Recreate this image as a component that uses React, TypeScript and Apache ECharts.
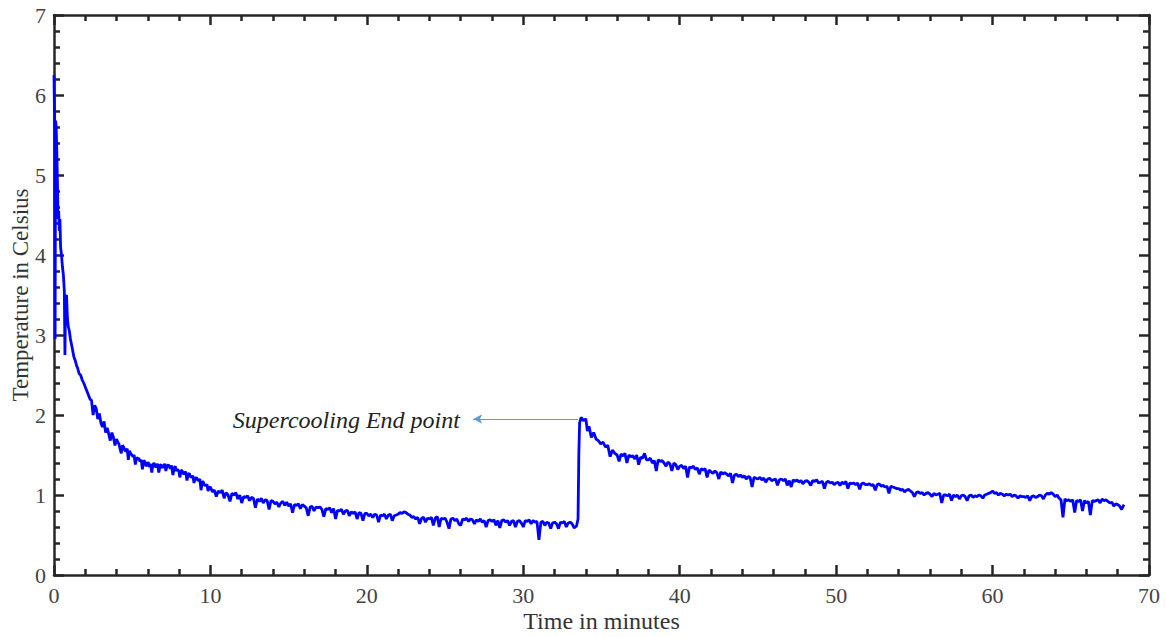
import React, { useEffect, useRef } from "react";
import * as echarts from "echarts";

// Temperature log [minutes, °C]
const coolingPhase: [number, number][] = [
  [0, 6.25], [0.04, 5.62], [0.07, 2.95], [0.1, 5.68], [0.14, 5.6], [0.18, 5.3], [0.22, 4.9],
  [0.26, 4.45], [0.3, 4.55], [0.34, 4.3], [0.38, 4.45], [0.42, 4.1], [0.48, 4.0], [0.54, 3.85],
  [0.6, 3.75], [0.66, 3.55], [0.7, 2.75], [0.74, 3.48], [0.8, 3.5], [0.86, 3.2], [0.92, 3.1],
  [0.98, 3.05], [1.05, 2.95], [1.12, 2.88], [1.2, 2.8], [1.28, 2.72], [1.36, 2.68], [1.44, 2.62],
  [1.52, 2.58], [1.6, 2.52], [1.7, 2.5], [1.8, 2.44], [1.9, 2.4], [2.0, 2.35], [2.1, 2.3],
  [2.2, 2.25], [2.3, 2.2], [2.4, 2.18], [2.5, 2.0], [2.6, 2.12], [2.7, 2.08], [2.8, 1.95],
  [2.9, 2.02], [3.0, 1.9], [3.1, 1.85], [3.2, 1.92], [3.3, 1.78], [3.4, 1.84], [3.5, 1.76],
  [3.6, 1.68], [3.7, 1.78], [3.8, 1.72], [3.9, 1.62], [4.0, 1.7], [4.08, 1.66], [4.15, 1.64],
  [4.22, 1.58], [4.3, 1.52], [4.38, 1.62], [4.45, 1.6], [4.52, 1.56], [4.6, 1.55], [4.68, 1.58],
  [4.75, 1.44], [4.82, 1.55], [4.9, 1.52], [4.98, 1.5], [5.05, 1.48], [5.12, 1.5], [5.2, 1.38],
  [5.28, 1.47], [5.35, 1.45], [5.42, 1.46], [5.5, 1.42], [5.58, 1.44], [5.65, 1.32], [5.72, 1.43],
  [5.8, 1.42], [5.88, 1.36], [5.95, 1.38], [6.02, 1.41], [6.1, 1.35], [6.18, 1.39], [6.25, 1.28],
  [6.32, 1.38], [6.4, 1.4], [6.48, 1.35], [6.55, 1.36], [6.62, 1.39], [6.7, 1.28], [6.78, 1.37],
  [6.85, 1.38], [6.92, 1.34], [7.0, 1.36], [7.08, 1.39], [7.15, 1.3], [7.22, 1.36], [7.3, 1.38],
  [7.38, 1.35], [7.45, 1.33], [7.52, 1.37], [7.6, 1.25], [7.68, 1.33], [7.75, 1.36], [7.82, 1.3],
  [7.9, 1.32], [7.98, 1.3], [8.05, 1.22], [8.12, 1.31], [8.2, 1.3], [8.28, 1.26], [8.35, 1.28],
  [8.42, 1.29], [8.5, 1.18], [8.58, 1.26], [8.65, 1.27], [8.72, 1.23], [8.8, 1.22], [8.88, 1.24],
  [8.95, 1.15], [9.02, 1.2], [9.1, 1.22], [9.18, 1.19], [9.25, 1.18], [9.32, 1.2], [9.4, 1.06],
  [9.48, 1.17], [9.55, 1.16], [9.62, 1.12], [9.7, 1.12], [9.78, 1.13], [9.85, 1.05], [9.92, 1.09],
  [10.0, 1.1], [10.125, 1.04], [10.25, 1.06], [10.375, 0.98], [10.5, 1.05], [10.625, 1.03],
  [10.75, 1.06], [10.875, 0.96], [11.0, 1.03], [11.125, 1.0], [11.25, 0.92], [11.375, 1.02],
  [11.5, 1.0], [11.625, 1.03], [11.75, 0.95], [11.875, 1.0], [12.0, 0.9], [12.125, 0.98],
  [12.25, 0.97], [12.375, 0.99], [12.5, 0.93], [12.625, 0.97], [12.75, 0.96], [12.875, 0.84],
  [13.0, 0.95], [13.125, 0.92], [13.25, 0.96], [13.375, 0.9], [13.5, 0.94], [13.625, 0.93],
  [13.75, 0.82], [13.875, 0.93], [14.0, 0.92], [14.125, 0.89], [14.25, 0.91], [14.375, 0.85],
  [14.5, 0.9], [14.625, 0.92], [14.75, 0.87], [14.875, 0.91], [15.0, 0.86], [15.125, 0.89],
  [15.25, 0.78], [15.375, 0.88], [15.5, 0.87], [15.625, 0.89], [15.75, 0.83], [15.875, 0.88],
  [16.0, 0.86], [16.125, 0.84], [16.25, 0.74], [16.375, 0.85], [16.5, 0.86], [16.625, 0.8],
  [16.75, 0.85], [16.875, 0.84], [17.0, 0.85], [17.125, 0.82], [17.25, 0.73], [17.375, 0.83],
  [17.5, 0.82], [17.625, 0.84], [17.75, 0.78], [17.875, 0.83], [18.0, 0.7], [18.125, 0.81],
  [18.25, 0.8], [18.375, 0.82], [18.5, 0.76], [18.625, 0.8], [18.75, 0.81], [18.875, 0.74],
  [19.0, 0.79], [19.125, 0.77], [19.25, 0.79], [19.375, 0.7], [19.5, 0.78], [19.625, 0.77],
  [19.75, 0.68], [19.875, 0.77], [20.0, 0.77], [20.125, 0.74], [20.25, 0.76], [20.375, 0.72],
  [20.5, 0.76], [20.625, 0.75], [20.75, 0.66], [20.875, 0.75], [21.0, 0.74], [21.125, 0.76],
  [21.25, 0.7], [21.375, 0.75], [21.5, 0.76], [21.625, 0.68], [21.75, 0.74], [21.875, 0.75],
  [22.0, 0.76], [22.125, 0.78], [22.25, 0.77], [22.375, 0.79], [22.5, 0.78], [22.625, 0.76],
  [22.75, 0.75], [22.875, 0.72], [23.0, 0.73], [23.125, 0.7], [23.25, 0.72], [23.375, 0.64],
  [23.5, 0.71], [23.625, 0.72], [23.75, 0.66], [23.875, 0.71], [24.0, 0.7], [24.125, 0.72],
  [24.25, 0.62], [24.375, 0.71], [24.5, 0.73], [24.625, 0.6], [24.75, 0.71], [24.875, 0.7],
  [25.0, 0.71], [25.125, 0.66], [25.25, 0.58], [25.375, 0.7], [25.5, 0.71], [25.625, 0.68],
  [25.75, 0.7], [25.875, 0.64], [26.0, 0.62], [26.125, 0.7], [26.25, 0.69], [26.375, 0.71],
  [26.5, 0.67], [26.625, 0.7], [26.75, 0.69], [26.875, 0.64], [27.0, 0.69], [27.125, 0.67],
  [27.25, 0.7], [27.375, 0.66], [27.5, 0.68], [27.625, 0.6], [27.75, 0.68], [27.875, 0.69],
  [28.0, 0.67], [28.125, 0.69], [28.25, 0.62], [28.375, 0.68], [28.5, 0.59], [28.625, 0.68],
  [28.75, 0.69], [28.875, 0.66], [29.0, 0.68], [29.125, 0.62], [29.25, 0.67], [29.375, 0.68],
  [29.5, 0.6], [29.625, 0.67], [29.75, 0.68], [29.875, 0.65], [30.0, 0.6], [30.125, 0.68],
  [30.25, 0.67], [30.375, 0.69], [30.5, 0.64], [30.625, 0.68], [30.75, 0.66], [30.875, 0.67],
  [31.0, 0.44], [31.125, 0.66], [31.25, 0.67], [31.375, 0.62], [31.5, 0.66], [31.625, 0.65],
  [31.75, 0.58], [31.875, 0.65], [32.0, 0.66], [32.125, 0.64], [32.25, 0.58], [32.375, 0.66],
  [32.5, 0.65], [32.625, 0.67], [32.75, 0.6], [32.875, 0.65], [33.0, 0.66], [33.125, 0.64],
  [33.25, 0.59], [33.4, 0.61],
];

const warmingPhase: [number, number][] = [
  [33.5, 0.7], [33.55, 1.5], [33.6, 1.9], [33.7, 1.97], [33.85, 1.93], [34.0, 1.95], [34.1, 1.8],
  [34.2, 1.86], [34.35, 1.72], [34.5, 1.78], [34.65, 1.7], [34.8, 1.68], [34.95, 1.64],
  [35.1, 1.66], [35.25, 1.6], [35.4, 1.62], [35.55, 1.48], [35.7, 1.56], [35.85, 1.52],
  [36.0, 1.5], [36.125, 1.42], [36.25, 1.51], [36.375, 1.49], [36.5, 1.52], [36.625, 1.4],
  [36.75, 1.5], [36.875, 1.48], [37.0, 1.49], [37.125, 1.45], [37.25, 1.5], [37.375, 1.38],
  [37.5, 1.47], [37.625, 1.46], [37.75, 1.52], [37.875, 1.44], [38.0, 1.44], [38.125, 1.46],
  [38.25, 1.4], [38.375, 1.43], [38.5, 1.3], [38.625, 1.44], [38.75, 1.42], [38.875, 1.43],
  [39.0, 1.4], [39.125, 1.36], [39.25, 1.41], [39.375, 1.39], [39.5, 1.3], [39.625, 1.4],
  [39.75, 1.38], [39.875, 1.32], [40.0, 1.36], [40.125, 1.37], [40.25, 1.33], [40.375, 1.36],
  [40.5, 1.22], [40.625, 1.35], [40.75, 1.34], [40.875, 1.36], [41.0, 1.32], [41.125, 1.34],
  [41.25, 1.26], [41.375, 1.33], [41.5, 1.31], [41.625, 1.33], [41.75, 1.22], [41.875, 1.31],
  [42.0, 1.29], [42.125, 1.27], [42.25, 1.3], [42.375, 1.28], [42.5, 1.2], [42.625, 1.29],
  [42.75, 1.26], [42.875, 1.28], [43.0, 1.26], [43.125, 1.24], [43.25, 1.27], [43.375, 1.15],
  [43.5, 1.25], [43.625, 1.26], [43.75, 1.23], [43.875, 1.25], [44.0, 1.22], [44.125, 1.24],
  [44.25, 1.2], [44.375, 1.23], [44.5, 1.22], [44.625, 1.1], [44.75, 1.22], [44.875, 1.21],
  [45.0, 1.2], [45.125, 1.22], [45.25, 1.19], [45.375, 1.21], [45.5, 1.16], [45.625, 1.2],
  [45.75, 1.21], [45.875, 1.18], [46.0, 1.19], [46.125, 1.2], [46.25, 1.12], [46.375, 1.19],
  [46.5, 1.2], [46.625, 1.18], [46.75, 1.2], [46.875, 1.12], [47.0, 1.18], [47.125, 1.1],
  [47.25, 1.19], [47.375, 1.17], [47.5, 1.19], [47.625, 1.16], [47.75, 1.18], [47.875, 1.14],
  [48.0, 1.17], [48.125, 1.18], [48.25, 1.16], [48.375, 1.12], [48.5, 1.18], [48.625, 1.17],
  [48.75, 1.19], [48.875, 1.15], [49.0, 1.16], [49.125, 1.17], [49.25, 1.08], [49.375, 1.16],
  [49.5, 1.17], [49.625, 1.15], [49.75, 1.16], [49.875, 1.13], [50.0, 1.15], [50.125, 1.16],
  [50.25, 1.12], [50.375, 1.16], [50.5, 1.14], [50.625, 1.17], [50.75, 1.08], [50.875, 1.15],
  [51.0, 1.14], [51.125, 1.15], [51.25, 1.13], [51.375, 1.15], [51.5, 1.07], [51.625, 1.14],
  [51.75, 1.15], [51.875, 1.13], [52.0, 1.13], [52.125, 1.14], [52.25, 1.12], [52.375, 1.13],
  [52.5, 1.06], [52.625, 1.13], [52.75, 1.14], [52.875, 1.11], [53.0, 1.12], [53.125, 1.1],
  [53.25, 1.11], [53.375, 1.02], [53.5, 1.11], [53.625, 1.1], [53.75, 1.09], [53.875, 1.08],
  [54.0, 1.08], [54.125, 1.06], [54.25, 1.07], [54.375, 1.04], [54.5, 1.06], [54.625, 1.07],
  [54.75, 1.05], [54.875, 1.03], [55.0, 0.98], [55.125, 1.03], [55.25, 1.04], [55.375, 1.02],
  [55.5, 1.03], [55.625, 1.0], [55.75, 1.02], [55.875, 1.03], [56.0, 1.01], [56.125, 0.98],
  [56.25, 1.02], [56.375, 1.0], [56.5, 1.01], [56.625, 1.02], [56.75, 0.9], [56.875, 1.0],
  [57.0, 1.0], [57.125, 0.99], [57.25, 1.01], [57.375, 0.93], [57.5, 1.0], [57.625, 0.98],
  [57.75, 1.0], [57.875, 0.95], [58.0, 0.99], [58.125, 1.0], [58.25, 0.98], [58.375, 0.93],
  [58.5, 0.99], [58.625, 1.0], [58.75, 0.97], [58.875, 0.99], [59.0, 0.98], [59.125, 1.0],
  [59.25, 0.99], [59.375, 0.96], [59.5, 1.0], [59.625, 1.01], [59.75, 1.02], [59.875, 1.03],
  [60.0, 1.05], [60.125, 1.02], [60.25, 1.03], [60.375, 1.0], [60.5, 1.02], [60.625, 1.01],
  [60.75, 0.99], [60.875, 1.01], [61.0, 1.0], [61.125, 1.01], [61.25, 0.98], [61.375, 1.0],
  [61.5, 0.99], [61.625, 0.96], [61.75, 0.99], [61.875, 0.98], [62.0, 0.98], [62.125, 0.97],
  [62.25, 0.99], [62.375, 0.93], [62.5, 0.98], [62.625, 0.99], [62.75, 0.97], [62.875, 0.98],
  [63.0, 1.0], [63.125, 0.99], [63.25, 0.95], [63.375, 1.0], [63.5, 1.02], [63.625, 1.01],
  [63.75, 1.03], [63.875, 1.01], [64.0, 0.98], [64.125, 1.0], [64.25, 0.96], [64.375, 0.94],
  [64.5, 0.72], [64.625, 0.95], [64.75, 0.93], [64.875, 0.94], [65.0, 0.92], [65.125, 0.94],
  [65.25, 0.78], [65.375, 0.93], [65.5, 0.92], [65.625, 0.94], [65.75, 0.8], [65.875, 0.93],
  [66.0, 0.9], [66.125, 0.92], [66.25, 0.75], [66.375, 0.93], [66.5, 0.92], [66.625, 0.93],
  [66.75, 0.94], [66.875, 0.9], [67.0, 0.95], [67.125, 0.93], [67.25, 0.94], [67.375, 0.92],
  [67.5, 0.9], [67.625, 0.91], [67.75, 0.86], [67.875, 0.89], [68.0, 0.88], [68.125, 0.86],
  [68.25, 0.82], [68.4, 0.88],
];

const xTicks = [0, 10, 20, 30, 40, 50, 60, 70];
const yTicks = [0, 1, 2, 3, 4, 5, 6, 7];

// annotation: arrow from the peak to the label
const arrowStart: [number, number] = [33.5, 1.95];
const arrowEnd: [number, number] = [26.8, 1.95];
const labelAnchor: [number, number] = [25.95, 1.94];
const labelText = "Supercooling End point";

const FONT = "'Liberation Serif', 'Times New Roman', serif";
const AXIS_COLOR = "#262626";

export default function App() {
  const ref = useRef<HTMLDivElement>(null);
  useEffect(() => {
    document.body.style.margin = "0";
    const chart = echarts.init(ref.current!, undefined, { renderer: "svg" });
    const axisCommon = {
      axisLine: { show: true, onZero: false, lineStyle: { color: AXIS_COLOR, width: 2.5 } },
      axisTick: { show: true, inside: true, length: 10, lineStyle: { color: AXIS_COLOR, width: 2.5 } },
      minorTick: { show: true, splitNumber: 5, length: 6, lineStyle: { color: AXIS_COLOR, width: 2.5 } },
      splitLine: { show: false },
    };
    const tickLabel = { fontFamily: FONT, fontSize: 22, color: "#444" };
    chart.setOption({
      animation: false,
      backgroundColor: "#ffffff",
      grid: {
        left: 54, right: 17, top: 15, bottom: 62,
        containLabel: false, outerBoundsMode: "none",
      },
      xAxis: [
        {
          type: "value", min: xTicks[0], max: xTicks[xTicks.length - 1], interval: 10,
          position: "bottom",
          name: "Time in minutes", nameLocation: "middle", nameGap: 34, nameMoveOverlap: false,
          nameTextStyle: { fontFamily: FONT, fontSize: 24, color: "#333" },
          axisLabel: { ...tickLabel, margin: 9 },
          ...axisCommon,
        },
        {
          type: "value", min: xTicks[0], max: xTicks[xTicks.length - 1], interval: 10,
          position: "top",
          axisLabel: { show: false },
          ...axisCommon,
        },
      ],
      yAxis: [
        {
          type: "value", min: yTicks[0], max: yTicks[yTicks.length - 1], interval: 1,
          position: "left",
          name: "Temperature in Celsius", nameLocation: "middle", nameGap: 22, nameMoveOverlap: false,
          nameTextStyle: { fontFamily: FONT, fontSize: 23, color: "#333" },
          axisLabel: { ...tickLabel, margin: 8 },
          ...axisCommon,
        },
        {
          type: "value", min: yTicks[0], max: yTicks[yTicks.length - 1], interval: 1,
          position: "right",
          axisLabel: { show: false },
          ...axisCommon,
        },
      ],
      series: [
        {
          type: "line",
          xAxisIndex: 0,
          yAxisIndex: 0,
          data: [...coolingPhase, ...warmingPhase],
          showSymbol: false,
          symbol: "none",
          lineStyle: { color: "#0000ff", width: 2.8 },
          z: 3,
          markLine: {
            silent: true,
            symbol: ["none", "arrow"],
            symbolSize: [7, 9],
            label: { show: false },
            lineStyle: { color: "#5b9bd5", width: 1, type: "solid" },
            data: [[{ coord: arrowStart }, { coord: arrowEnd }]],
          },
          markPoint: {
            silent: true,
            symbol: "circle",
            symbolSize: 0,
            data: [{ coord: labelAnchor }],
            label: {
              show: true,
              position: "left",
              distance: 0,
              formatter: labelText,
              fontFamily: FONT,
              fontStyle: "italic",
              fontSize: 24,
              color: "#222",
            },
          },
        },
      ],
    });
    return () => chart.dispose();
  }, []);
  return <div ref={ref} style={{ width: 1166, height: 637 }} />;
}
